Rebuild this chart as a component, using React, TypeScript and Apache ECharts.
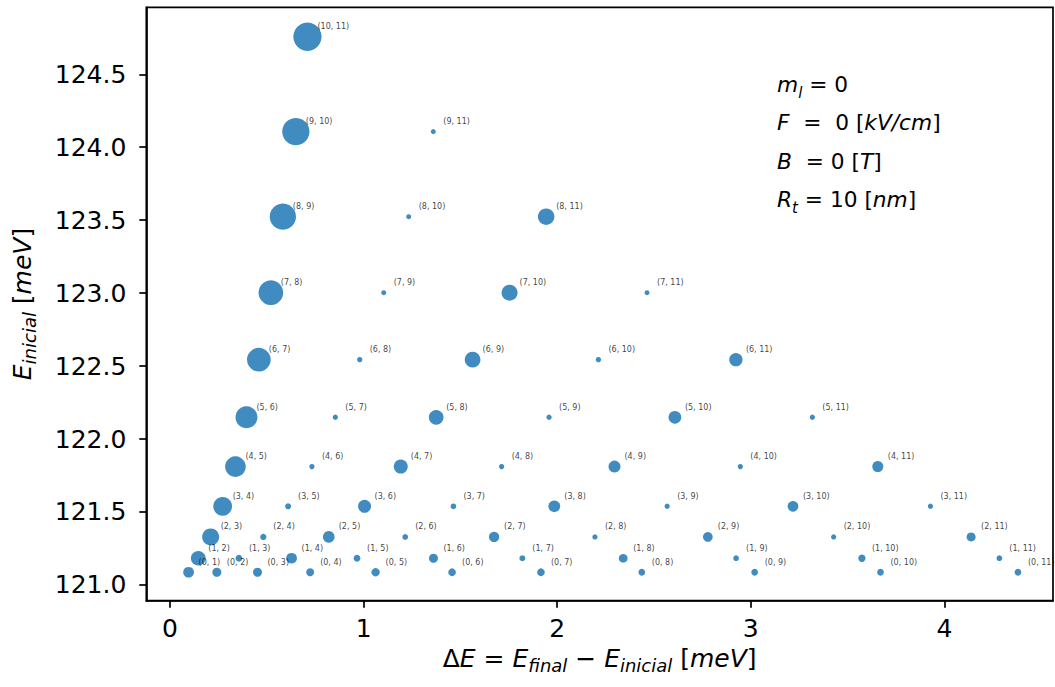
import { useEffect, useRef } from 'react';
import * as echarts from 'echarts';

// Energy levels E_n (meV), n = 0..11
const energyLevels = [121.087, 121.183, 121.329, 121.539, 121.811, 122.149, 122.544, 123.003, 123.524, 124.107, 124.757, 125.467];

// Marker diameters (px) for each transition (i -> j), row i lists j = i+1 .. 11
const markerSizes = [
  [10.7, 9, 9, 8, 8.3, 7.7, 7.7, 6.7, 6.7, 6.7, 6.7],
  [14.7, 6.7, 10.7, 6.7, 9, 6, 8.7, 5.7, 7.3, 5.7],
  [17, 6.3, 11.7, 5.7, 10.3, 5.3, 9.7, 5.3, 9],
  [18.7, 6, 13, 5.7, 11.7, 5.3, 10.7, 5.3],
  [20.7, 5.3, 14, 5.3, 12, 5.3, 11],
  [22, 5.3, 14.7, 5.3, 12.7, 5.3],
  [23.7, 5.3, 15.7, 5.3, 13.3],
  [24.7, 5, 16, 5],
  [26.3, 5, 16.5],
  [27.3, 5],
  [28.3],
];

const xTicks = [0, 1, 2, 3, 4];
const yTicks = [121.0, 121.5, 122.0, 122.5, 123.0, 123.5, 124.0, 124.5];

const FONT = 'DejaVu Sans';

const richMath = (size: number, lh: number, subLh: number) => ({
  n: { fontFamily: FONT, fontSize: size, lineHeight: lh, color: '#000' },
  i: { fontFamily: FONT, fontSize: size, fontStyle: 'italic', lineHeight: lh, color: '#000' },
  s: { fontFamily: FONT, fontSize: Math.round(size * 0.7), fontStyle: 'italic', lineHeight: subLh, verticalAlign: 'bottom', color: '#000' },
});

export default function App() {
  const ref = useRef<HTMLDivElement>(null);
  useEffect(() => {
    if (!ref.current) return;
    const chart = echarts.init(ref.current, null, { renderer: 'svg' });
    const points: any[] = [];
    markerSizes.forEach((row, i) => {
      row.forEach((s, k) => {
        const j = i + 1 + k;
        points.push({
          value: [energyLevels[j] - energyLevels[i], energyLevels[i], s],
          name: `(${i}, ${j})`,
        });
      });
    });

    const annot = (top: number, text: string) => ({
      type: 'text',
      left: 777,
      top,
      style: {
        text,
        rich: richMath(21.7, 32, 17),
        fontFamily: FONT,
        fontSize: 21.7,
        fill: '#000',
      },
    });

    chart.setOption({
      animation: false,
      backgroundColor: '#fff',
      grid: {
        left: 146.3,
        top: 7.3,
        right: 2,
        bottom: 86.3,
        show: true,
        borderColor: '#000',
        borderWidth: 1.7,
        containLabel: false,
        outerBoundsMode: 'none',
      },
      xAxis: {
        type: 'value',
        min: -0.1224,
        max: 4.561,
        splitLine: { show: false },
        axisLine: { show: true, onZero: false, lineStyle: { color: '#000', width: 1.7 } },
        axisTick: { show: true, length: 7, lineStyle: { color: '#000', width: 1.7 }, customValues: xTicks },
        axisLabel: {
          customValues: xTicks,
          fontSize: 25,
          fontFamily: FONT,
          color: '#000',
          margin: 15,
          formatter: (v: number) => String(Math.round(v)),
        },
        name: '{n|Δ}{i|E}{n| = }{i|E}{s|final}{n| − }{i|E}{s|inicial}{n| [}{i|meV}{n|]}',
        nameLocation: 'middle',
        nameGap: 33,
        nameTextStyle: { rich: richMath(25, 32, 18), fontFamily: FONT, fontSize: 25, color: '#000' },
      },
      yAxis: {
        type: 'value',
        min: 120.892,
        max: 124.959,
        splitLine: { show: false },
        axisLine: { show: true, onZero: false, lineStyle: { color: '#000', width: 1.7 } },
        axisTick: { show: true, length: 7, lineStyle: { color: '#000', width: 1.7 }, customValues: yTicks },
        axisLabel: {
          customValues: yTicks,
          fontSize: 25,
          fontFamily: FONT,
          color: '#000',
          margin: 20,
          formatter: (v: number) => v.toFixed(1),
        },
        name: '{i|E}{s|inicial}{n| [}{i|meV}{n|]}',
        nameLocation: 'middle',
        nameRotate: 90,
        nameGap: 108,
        nameTextStyle: { rich: richMath(25, 32, 18), fontFamily: FONT, fontSize: 25, color: '#000' },
      },
      graphic: [
        annot(73, '{i|m}{s|l}{n| = 0}'),
        annot(111, '{i|F}{n|  =  0 [}{i|kV/cm}{n|]}'),
        annot(150, '{i|B}{n|  = 0 [}{i|T}{n|]}'),
        annot(188, '{i|R}{s|t}{n| = 10 [}{i|nm}{n|]}'),
      ],
      series: [
        {
          type: 'scatter',
          data: points,
          symbol: 'circle',
          symbolSize: (v: number[]) => v[2],
          itemStyle: { color: '#1f77b4', opacity: 0.85 },
          emphasis: { disabled: true },
          label: {
            show: true,
            position: 'inside',
            align: 'left',
            verticalAlign: 'middle',
            offset: [10, -10],
            formatter: '{b}',
            fontSize: 8,
            fontFamily: FONT,
            color: '#1a1a1a',
            textBorderWidth: 0,
          },
        },
      ],
    });
    return () => chart.dispose();
  }, []);
  return (
    <div
      ref={ref}
      style={{ position: 'fixed', left: 0, top: 0, width: 1055, height: 687, background: '#fff' }}
    />
  );
}
